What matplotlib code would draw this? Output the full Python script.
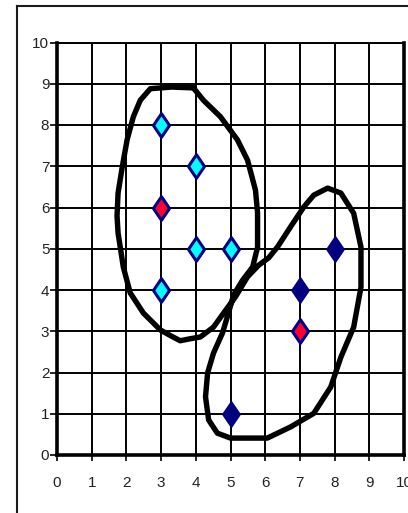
import matplotlib
matplotlib.use("Agg")
import matplotlib.pyplot as plt
from matplotlib.lines import Line2D
from matplotlib.path import Path

# Cluster members
cyan_x = [3, 4, 4, 5, 3]
cyan_y = [8, 7, 5, 5, 4]
red_x = [3, 7]
red_y = [6, 3]
navy_x = [8, 7, 5]
navy_y = [5, 4, 1]

# Hand-drawn outline around the two clusters (one closed figure-eight stroke)
outline_x = [3.93, 3.30, 2.69, 2.40, 2.20, 2.02, 1.88, 1.76, 1.73, 1.76, 1.91, 2.11,
             2.49, 2.98, 3.30, 3.55, 3.85, 4.13, 4.51, 4.80, 5.14, 5.49, 5.81, 6.10,
             6.36, 6.73, 7.11, 7.40, 7.80, 8.18, 8.55, 8.76, 8.76, 8.55, 8.18, 7.89,
             7.40, 6.73, 6.06, 5.00, 4.62, 4.37, 4.28, 4.34, 4.51, 4.77, 4.94, 5.09,
             5.35, 5.64, 5.78, 5.78, 5.72, 5.49, 5.20, 4.71, 4.22, 3.93]
outline_y = [8.90, 8.92, 8.88, 8.60, 8.20, 7.64, 6.98, 6.35, 5.80, 5.38, 4.56, 3.93,
             3.44, 3.03, 2.88, 2.77, 2.82, 2.86, 3.10, 3.44, 3.83, 4.32, 4.60, 4.78,
             5.05, 5.53, 6.01, 6.30, 6.47, 6.35, 5.86, 5.04, 4.07, 3.10, 2.37, 1.65,
             1.01, 0.68, 0.41, 0.41, 0.53, 0.85, 1.41, 1.99, 2.47, 2.96, 3.44, 3.88,
             4.24, 4.56, 5.04, 5.87, 6.42, 7.15, 7.64, 8.20, 8.60, 8.90]

ticks = list(range(0, 11))
tick_labels = [str(t) for t in ticks]

plt.rcParams['font.family'] = ['Liberation Sans', 'DejaVu Sans']

fig = plt.figure(figsize=(4.08, 5.13), dpi=100)
ax = fig.add_axes([57 / 408, 1 - 455 / 513, 347 / 408, 412.5 / 513])

ax.set_xlim(0, 10)
ax.set_ylim(0, 10)
ax.set_xticks(ticks)
ax.set_yticks(ticks)
ax.set_xticklabels(tick_labels)
ax.set_yticklabels(tick_labels)
ax.grid(True, color='black', linewidth=1.4)
ax.set_axisbelow(True)

for side in ('left', 'bottom', 'right'):
    ax.spines[side].set_linewidth(2.6)
ax.spines['top'].set_linewidth(1.4)
for sp in ax.spines.values():
    sp.set_color('black')

ax.tick_params(axis='y', direction='out', length=5, width=1.2, pad=0.5,
               labelsize=11, colors='black', labelcolor='#222222')
ax.tick_params(axis='x', direction='out', length=4, width=1.2, pad=11,
               labelsize=11, colors='black', labelcolor='#222222')

ax.plot(outline_x, outline_y, color='black', linewidth=3.9,
        solid_joinstyle='round', solid_capstyle='round', zorder=3)

diamond = Path([(0, 1), (0.68, 0), (0, -1), (-0.68, 0), (0, 1)],
               [Path.MOVETO, Path.LINETO, Path.LINETO, Path.LINETO, Path.CLOSEPOLY])

ax.plot(cyan_x, cyan_y, linestyle='none', marker=diamond, markersize=17,
        markerfacecolor='#00FFFF', markeredgecolor='#000080', markeredgewidth=2.2,
        zorder=4, clip_on=False)
ax.plot(red_x, red_y, linestyle='none', marker=diamond, markersize=17,
        markerfacecolor='#FF0033', markeredgecolor='#000080', markeredgewidth=2.2,
        zorder=4, clip_on=False)
ax.plot(navy_x, navy_y, linestyle='none', marker=diamond, markersize=18.5,
        markerfacecolor='#000080', markeredgecolor='#000080', markeredgewidth=1.0,
        zorder=4, clip_on=False)

# Outer frame around the chart area
fx = 17 / 408
fy = 1 - 6 / 513
fig.add_artist(Line2D([fx, fx], [fy, 0], transform=fig.transFigure,
                      color='#1a1a1a', linewidth=1.5))
fig.add_artist(Line2D([fx, 1], [fy, fy], transform=fig.transFigure,
                      color='#1a1a1a', linewidth=1.5))

fig.savefig('out.png', dpi=100)
